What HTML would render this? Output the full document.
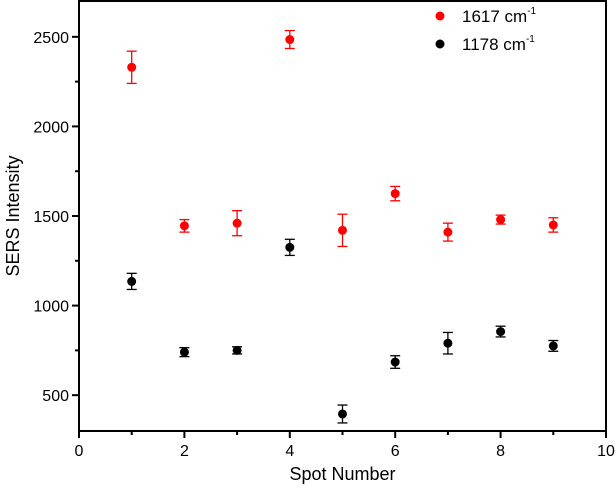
<!DOCTYPE html>
<html><head><meta charset="utf-8"><style>
html,body{margin:0;padding:0;background:#fff;}
svg{display:block;font-family:"Liberation Sans",Arial,sans-serif;}
</style></head><body>
<svg id="chart" width="616" height="489" viewBox="0 0 616 489"></svg>
<script>
const spots = [1,2,3,4,5,6,7,8,9];
const red = [2330,1445,1460,2485,1420,1625,1410,1480,1450];
const redErr = [90,35,70,50,90,40,50,25,40];
const black = [1135,740,750,1325,395,685,790,855,775];
const blackErr = [45,25,20,45,50,35,60,30,30];
const xTicks = [0,2,4,6,8,10];
const yTicks = [500,1000,1500,2000,2500];

const L=79,R=606,T=1,B=431,xmin=0,xmax=10,ymin=300,ymax=2700;
const X=v=>L+(v-xmin)/(xmax-xmin)*(R-L);
const Y=v=>B-(v-ymin)/(ymax-ymin)*(B-T);
const svg=document.getElementById('chart');
const NS='http://www.w3.org/2000/svg';
function mk(tag,a,parent){const e=document.createElementNS(NS,tag);for(const k in a)e.setAttribute(k,a[k]);(parent||svg).appendChild(e);return e;}

const frame=mk('rect',{x:L,y:T,width:R-L,height:B-T,fill:'none',stroke:'#000','stroke-width':2});



for(let v=0;v<=10;v+=1){
  const major=v%2===0;
  const t=mk('line',{x1:X(v),x2:X(v),y1:B,y2:B+(major?7:4),stroke:'#000','stroke-width':2});
  
  
}
xTicks.forEach(v=>{
  const t=mk('text',{x:X(v),y:B+25,'text-anchor':'middle','font-size':16,fill:'#000'});
  t.textContent=v;
  
  
});
for(let v=500;v<=2500;v+=250){
  const major=v%500===0;
  const t=mk('line',{x1:L,x2:L-(major?7:4),y1:Y(v),y2:Y(v),stroke:'#000','stroke-width':2});
  
  
}
yTicks.forEach(v=>{
  const t=mk('text',{x:L-10,y:Y(v)+6,'text-anchor':'end','font-size':16,fill:'#000'});
  t.textContent=v;
  
  
});
const xt=mk('text',{x:(L+R)/2,y:480,'text-anchor':'middle','font-size':18,fill:'#000'});
xt.textContent='Spot Number';


const yt=mk('text',{x:0,y:0,'text-anchor':'middle','font-size':18,fill:'#000',transform:`translate(19,${(T+B)/2}) rotate(-90)`});
yt.textContent='SERS Intensity';



function series(vals,errs,color,name){
  const g=mk('g',{});
  
  
  vals.forEach((v,i)=>{
    const x=X(spots[i]),e=errs[i];
    mk('line',{x1:x,x2:x,y1:Y(v+e),y2:Y(v-e),stroke:color,'stroke-width':1.3},g);
    mk('line',{x1:x-5,x2:x+5,y1:Y(v+e),y2:Y(v+e),stroke:color,'stroke-width':1.3},g);
    mk('line',{x1:x-5,x2:x+5,y1:Y(v-e),y2:Y(v-e),stroke:color,'stroke-width':1.3},g);
    const c=mk('circle',{cx:x,cy:Y(v),r:4.5,fill:color},g);
    
    
  });
}
series(red,redErr,'#ff0000','red-1617');
series(black,blackErr,'#000000','black-1178');

const leg=[['#ff0000','1617',16],['#000000','1178',44]];
leg.forEach(([c,lab,y])=>{
  const g=mk('g',{});
  
  
  mk('circle',{cx:440,cy:y,r:4.5,fill:c},g);
  const t=mk('text',{x:462,y:y+6,'font-size':17,fill:'#000'},g);
  t.textContent=lab+' cm';
  const s=mk('tspan',{'font-size':10,dy:-8},t);
  s.textContent='-1';
});
</script>
</body></html>
